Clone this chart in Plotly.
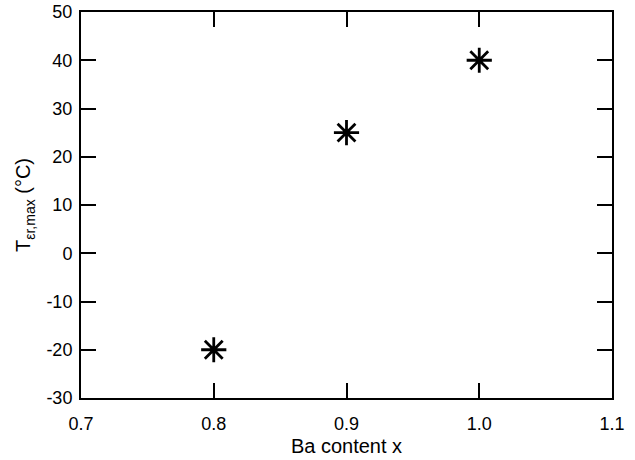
import plotly.graph_objects as go

ba_content = [0.8, 0.9, 1.0]
t_max = [-20, 25, 40]

x_ticks = [0.7, 0.8, 0.9, 1.0, 1.1]
x_tick_labels = ["0.7", "0.8", "0.9", "1.0", "1.1"]
y_ticks = [-30, -20, -10, 0, 10, 20, 30, 40, 50]
y_tick_labels = ["-30", "-20", "-10", "0", "10", "20", "30", "40", "50"]

fig = go.Figure()
fig.add_trace(go.Scatter(
    x=ba_content, y=t_max, mode="markers",
    marker=dict(symbol="asterisk-open", size=21, color="black",
                line=dict(color="black", width=2.8)),
    showlegend=False,
))

tick_font = dict(family="Liberation Sans, Arial, sans-serif", size=18, color="black")
title_font = dict(family="Liberation Sans, Arial, sans-serif", size=20, color="black")
axis_common = dict(
    showgrid=False, zeroline=False, showline=True, linecolor="black", linewidth=2,
    mirror="ticks", ticks="inside", ticklen=15, tickwidth=2, tickcolor="black",
    tickfont=tick_font, automargin=False,
)
fig.update_xaxes(range=[0.7, 1.1], tickvals=x_ticks, ticktext=x_tick_labels,
                 ticklabelstandoff=8,
                 title=dict(text="Ba content x", font=title_font, standoff=6), **axis_common)
fig.update_yaxes(range=[-30, 50], tickvals=y_ticks, ticktext=y_tick_labels,
                 ticklabelstandoff=3,
                 title=dict(text="T<sub>εr,max</sub> (°C)", font=title_font, standoff=10),
                 **axis_common)
fig.update_layout(
    width=635, height=460, margin=dict(l=81, r=23, t=12, b=62),
    plot_bgcolor="white", paper_bgcolor="white", font=tick_font,
)
fig.write_html("out.html")
